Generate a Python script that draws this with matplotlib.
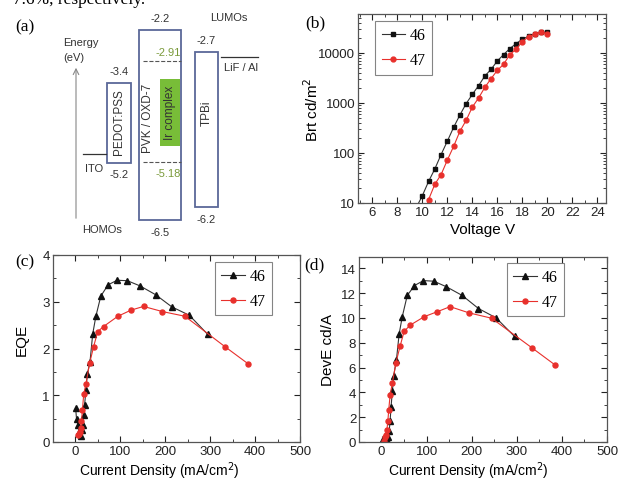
import numpy as np
import matplotlib.pyplot as plt
from matplotlib.ticker import MultipleLocator, ScalarFormatter, NullFormatter, LogLocator

plt.rcParams['font.family'] = 'Liberation Sans'
SERIF = 'Liberation Serif'

# (a) energy levels (eV)
layers = ["PEDOT:PSS", "PVK / OXD-7", "TPBi"]
lumo = [-3.4, -2.2, -2.7]
homo = [-5.2, -6.5, -6.2]
ir_lumo = -2.91
ir_homo = -5.18
ito_level = -5.0
cathode_level = -2.8

# (b) brightness vs voltage
volt_46 = [9.5, 10, 10.5, 11, 11.5, 12, 12.5, 13, 13.5, 14, 14.5, 15, 15.5,
           16, 16.5, 17, 17.5, 18, 18.5, 19, 19.5, 20]
brt_46 = [8, 14, 27, 48, 93, 172, 324, 571, 964, 1483, 2212, 3453, 4694,
          6900, 9250, 12190, 15350, 18750, 21550, 24000, 25900, 25900]
volt_47 = [10, 10.5, 11, 11.5, 12, 12.5, 13, 13.5, 14, 14.5, 15, 15.5,
           16, 16.5, 17, 17.5, 18, 18.5, 19, 19.5, 20]
brt_47 = [5, 11.7, 23.7, 37, 72, 135, 269, 447, 826, 1253, 2048, 3054,
          4487, 5916, 9250, 11830, 16860, 20900, 24000, 26200, 24000]

# (c), (d) efficiency vs current density (mA/cm2)
j_46 = [1, 3, 6, 9, 12, 15, 17, 19, 21, 24, 27, 33, 39, 46, 57, 73, 93,
        116, 144, 179, 215, 254, 295]
eqe_46 = [0.73, 0.49, 0.37, 0.22, 0.12, 0.25, 0.37, 0.57, 0.80, 1.12, 1.45,
          1.72, 2.31, 2.69, 3.12, 3.36, 3.46, 3.45, 3.34, 3.15, 2.89, 2.71, 2.30]
ce_46 = [0.1, 0.1, 0.1, 0.15, 0.2, 0.4, 0.9, 1.7, 2.8, 4.1, 5.35, 6.6, 8.7,
         10.1, 11.8, 12.6, 13.0, 12.95, 12.5, 11.8, 10.75, 10.0, 8.5]
j_47 = [6, 8, 10, 12, 14, 16, 19, 24, 32, 41, 50, 63, 95, 124, 152, 194,
        244, 333, 385]
eqe_47 = [0.14, 0.17, 0.22, 0.30, 0.44, 0.68, 1.02, 1.25, 1.68, 2.04, 2.36,
          2.47, 2.69, 2.82, 2.90, 2.79, 2.69, 2.04, 1.67]
ce_47 = [0.1, 0.4, 0.6, 1.0, 1.7, 2.6, 3.8, 4.75, 6.4, 7.7, 8.9, 9.4, 10.1,
         10.5, 10.9, 10.4, 9.97, 7.6, 6.2]

BLACK = '#111111'
RED = '#e8302c'
W, H = 622, 481


def fx(x):
    return x / W


def fy(y):
    return 1 - y / H


fig = plt.figure(figsize=(6.22, 4.81), dpi=100)

# cut-off caption line at the very top of the page crop
fig.text(fx(13), fy(4), "7.6%, respectively.", family=SERIF, fontsize=12.5,
         va='baseline', ha='left')

################################################################
# (a) energy diagram, x in pixels, y in eV
def e_of(py):
    return -2.2 - (py - 31) / 44.19


axa = fig.add_axes([0, fy(240), fx(300), 230 / H])
axa.set_xlim(0, 300)
axa.set_ylim(e_of(240), e_of(10))
axa.axis('off')

box_x = [(107, 131), (139, 181), (195, 218)]
name_y = [122, 118, 113]
edge = '#5a6898'
txt = '#333333'
for name, lu, ho, (x0, x1), ny in zip(layers, lumo, homo, box_x, name_y):
    axa.add_patch(plt.Rectangle((x0, ho), x1 - x0, lu - ho, fill=False,
                                edgecolor=edge, lw=1.3))
    xc = (x0 + x1) / 2
    axa.annotate(str(lu), (xc, lu), xytext=(0, 8.5), textcoords='offset points',
                 ha='center', va='center', fontsize=8, color=txt)
    axa.annotate(str(ho), (xc, ho), xytext=(0, -8.5), textcoords='offset points',
                 ha='center', va='center', fontsize=8, color=txt)
    # PVK label sits left of the Ir complex block
    xt = 148 if name.startswith("PVK") else xc
    axa.text(xt, e_of(ny), name, rotation=90, ha='center', va='center',
             fontsize=8.5, color=txt)

# dopant levels
green_txt = '#7a9a3a'
axa.plot([143, 181], [ir_lumo, ir_lumo], ls='--', lw=0.8, color='#555555')
axa.plot([143, 181], [ir_homo, ir_homo], ls='--', lw=0.8, color='#555555')
axa.annotate(str(ir_lumo), (168, ir_lumo), xytext=(0, 6.5), textcoords='offset points',
             ha='center', va='center', fontsize=8, color=green_txt)
axa.annotate(str(ir_homo), (168, ir_homo), xytext=(0, -8.5), textcoords='offset points',
             ha='center', va='center', fontsize=8, color=green_txt)
axa.add_patch(plt.Rectangle((160, e_of(147)), 20, e_of(80) - e_of(147),
                            facecolor='#78bd38', edgecolor='none'))
axa.text(170, e_of(113), "Ir complex", rotation=90, ha='center', va='center',
         fontsize=8.5, color=txt)

# electrodes
axa.plot([83, 106], [ito_level, ito_level], color='#333333', lw=0.9)
axa.text(94, e_of(169), "ITO", ha='center', va='center', fontsize=8, color=txt)
axa.plot([221, 258], [cathode_level, cathode_level], color='#333333', lw=0.9)
axa.text(241, e_of(68), "LiF / Al", ha='center', va='center', fontsize=8, color=txt)

axa.text(229, e_of(18), "LUMOs", ha='center', va='center', fontsize=8, color=txt)
axa.text(102, e_of(230), "HOMOs", ha='center', va='center', fontsize=8, color=txt)
axa.text(63, e_of(43), "Energy", ha='left', va='center', fontsize=8, color=txt)
axa.text(63, e_of(58), "(eV)", ha='left', va='center', fontsize=8, color=txt)
axa.annotate("", xy=(76, e_of(66)), xytext=(76, e_of(222)),
             arrowprops=dict(arrowstyle='->', color='#888888', lw=0.8))

################################################################
# common styling for the data panels
def style(ax):
    for s in ax.spines.values():
        s.set_color('#555555')
        s.set_linewidth(0.9)
    ax.tick_params(which='both', direction='in', top=True, right=True,
                   labelsize=9.5, colors='#222222', pad=2)
    ax.tick_params(which='major', length=4)
    ax.tick_params(which='minor', length=2)


def legend(ax, left, top):
    lg = ax.legend(loc='upper left', bbox_to_anchor=(left, top), frameon=True,
                   fancybox=False, prop={'family': SERIF, 'size': 11.5},
                   handlelength=1.5, handletextpad=0.25, borderpad=0.4,
                   labelspacing=0.55, borderaxespad=0)
    lg.get_frame().set_edgecolor('#666666')
    lg.get_frame().set_linewidth(0.8)


def fig_label(s, x, y):
    fig.text(fx(x), fy(y), s, family=SERIF, fontsize=12.5, ha='center', va='center')


# (b)
axb = fig.add_axes([fx(358), fy(204), 248 / W, 189 / H])
axb.plot(volt_46, brt_46, color='#333333', lw=0.8, marker='s', ms=3.2,
         mfc=BLACK, mec=BLACK, label='46')
axb.plot(volt_47, brt_47, color=RED, lw=0.8, marker='o', ms=3.5,
         mfc=RED, mec=RED, label='47')
axb.set_yscale('log')
axb.set_xlim(4.85, 24.7)
axb.set_ylim(10, 6e4)
axb.set_xticks([6, 8, 10, 12, 14, 16, 18, 20, 22, 24])
axb.xaxis.set_minor_locator(MultipleLocator(1))
axb.yaxis.set_major_locator(LogLocator(base=10, numticks=10))
axb.yaxis.set_major_formatter(ScalarFormatter())
axb.yaxis.set_minor_formatter(NullFormatter())
style(axb)
axb.set_xlabel("Voltage V", fontsize=11)
axb.set_ylabel("Brt cd/m$^2$", fontsize=11)
axb.xaxis.set_label_coords(0.504, -0.14)
axb.xaxis.label.set_va('center')
axb.yaxis.set_label_coords(-0.185, 0.497)
axb.yaxis.label.set_va('center')
legend(axb, 0.069, 0.963)
fig_label("(b)", 315, 23)

# (c)
axc = fig.add_axes([fx(52.7), fy(443), 247.3 / W, 187 / H])
axc.plot(j_46, eqe_46, color='#333333', lw=0.8, marker='^', ms=3.8,
         mfc=BLACK, mec=BLACK, label='46')
axc.plot(j_47, eqe_47, color=RED, lw=0.8, marker='o', ms=3.6,
         mfc=RED, mec=RED, label='47')
axc.set_xlim(-50, 500)
axc.set_ylim(0, 4)
axc.xaxis.set_major_locator(MultipleLocator(100))
axc.xaxis.set_minor_locator(MultipleLocator(50))
axc.yaxis.set_major_locator(MultipleLocator(1))
axc.yaxis.set_minor_locator(MultipleLocator(0.5))
style(axc)
axc.set_xlabel("Current Density (mA/cm$^2$)", fontsize=10)
axc.set_ylabel("EQE", fontsize=11)
axc.xaxis.set_label_coords(0.43, -0.15)
axc.xaxis.label.set_va('center')
axc.yaxis.set_label_coords(-0.124, 0.551)
axc.yaxis.label.set_va('center')
legend(axc, 0.656, 0.963)
fig_label("(c)", 25, 262)

# (d)
axd = fig.add_axes([fx(359), fy(443), 248 / W, 185 / H])
axd.plot(j_46, ce_46, color='#333333', lw=0.8, marker='^', ms=3.8,
         mfc=BLACK, mec=BLACK, label='46')
axd.plot(j_47, ce_47, color=RED, lw=0.8, marker='o', ms=3.6,
         mfc=RED, mec=RED, label='47')
axd.set_xlim(-50, 500)
axd.set_ylim(0, 14.9)
axd.xaxis.set_major_locator(MultipleLocator(100))
axd.xaxis.set_minor_locator(MultipleLocator(50))
axd.yaxis.set_major_locator(MultipleLocator(2))
axd.yaxis.set_minor_locator(MultipleLocator(1))
style(axd)
axd.set_xlabel("Current Density (mA/cm$^2$)", fontsize=10)
axd.set_ylabel("DevE cd/A", fontsize=11)
axd.xaxis.set_label_coords(0.44, -0.152)
axd.xaxis.label.set_va('center')
axd.yaxis.set_label_coords(-0.125, 0.503)
axd.yaxis.label.set_va('center')
legend(axd, 0.597, 0.968)
fig_label("(d)", 314, 265)
fig_label("(a)", 25, 27)

fig.savefig('out.png', dpi=100)
